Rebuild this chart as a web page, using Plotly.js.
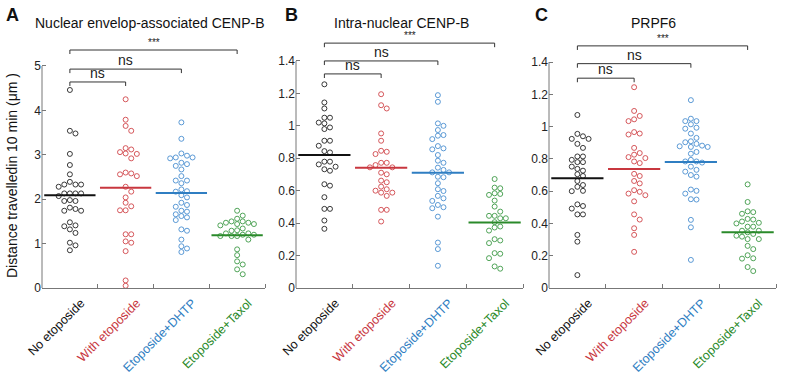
<!DOCTYPE html>
<html>
<head>
<meta charset="utf-8">
<script src="https://cdn.plot.ly/plotly-3.0.1.min.js"></script>
<style>html,body{margin:0;padding:0;background:#fff;}#chart{width:786px;height:377px;}</style>
</head>
<body>
<div id="chart"></div>
<script>
// ---------- data ----------
const categories = ['No etoposide', 'With etoposide', 'Etoposide+DHTP', 'Etoposide+Taxol'];
const colors = ['#222222', '#d0454a', '#4a8fd0', '#3d9a46'];
const lineColors = ['#111111', '#c8373f', '#2f7ec2', '#2a8a2a'];

const panelTitles = ['Nuclear envelop-associated CENP-B', 'Intra-nuclear CENP-B', 'PRPF6'];
const panelLetters = ['A', 'B', 'C'];
const yTitle = 'Distance travelledin 10 min (μm )';

const A_none = [4.46,3.54,3.48,3.02,2.77,2.56,2.39,2.33,2.28,2.33,2.33,2.13,2.13,2.13,2.13,2.07,1.96,1.96,1.98,1.78,1.74,1.74,1.81,1.48,1.32,1.39,1.41,1.24,0.96,1.02,0.85];
const A_with = [4.25,3.79,3.65,3.54,3.06,3.02,3.12,3.15,3.03,2.92,2.58,2.52,2.56,2.60,2.28,2.17,2.04,1.84,1.92,1.75,1.75,1.21,1.21,1.02,1.05,0.83,0.17,0.05];
const A_dhtp = [3.73,3.36,3.03,2.94,2.94,2.98,2.92,2.82,2.75,2.79,2.67,2.52,2.42,2.36,2.42,2.22,2.17,2.18,2.04,2.09,1.92,1.83,1.87,1.74,1.72,1.62,1.53,1.59,1.66,1.32,1.29,1.09,0.89,0.94,0.81];
const A_taxol = [1.74,1.63,1.50,1.47,1.44,1.41,1.44,1.47,1.50,1.56,1.34,1.30,1.29,1.23,1.20,1.17,1.17,1.17,1.20,1.23,1.09,0.87,0.74,0.60,0.53,0.42,0.31];
const A_medians = [2.09, 2.26, 2.14, 1.19];

const B_none = [1.256,1.144,1.107,1.05,1.05,1.015,0.99,0.98,1.02,0.908,0.908,0.877,0.844,0.836,0.762,0.732,0.779,0.723,0.748,0.779,0.631,0.64,0.56,0.488,0.488,0.416,0.365];
const B_with = [1.195,1.107,1.127,0.953,0.908,0.84,0.826,0.846,0.772,0.758,0.772,0.744,0.744,0.701,0.711,0.662,0.652,0.625,0.588,0.588,0.6,0.609,0.568,0.482,0.482,0.41];
const B_dhtp = [1.189,1.148,1.0,1.015,0.939,0.974,0.943,0.918,0.861,0.855,0.875,0.82,0.772,0.785,0.742,0.713,0.713,0.728,0.683,0.686,0.646,0.598,0.609,0.568,0.553,0.537,0.512,0.492,0.498,0.44,0.28,0.24,0.137];
const B_taxol = [0.672,0.619,0.615,0.58,0.574,0.584,0.539,0.502,0.471,0.445,0.43,0.445,0.43,0.406,0.379,0.354,0.373,0.301,0.293,0.277,0.215,0.211,0.184,0.133,0.119];
const B_medians = [0.82, 0.742, 0.711, 0.404];

const C_none = [1.072,0.955,0.924,0.924,0.94,0.893,0.868,0.815,0.815,0.794,0.78,0.78,0.752,0.738,0.727,0.705,0.694,0.663,0.638,0.627,0.602,0.6,0.492,0.508,0.518,0.456,0.456,0.329,0.287,0.08];
const C_with = [1.244,1.097,1.045,1.034,1.066,0.957,0.951,0.966,0.868,0.836,0.826,0.805,0.811,0.784,0.774,0.707,0.694,0.663,0.648,0.606,0.596,0.585,0.575,0.537,0.456,0.424,0.37,0.329,0.224];
const C_dhtp = [1.164,1.049,1.034,1.014,1.034,0.993,0.987,0.957,0.93,0.909,0.893,0.903,0.874,0.882,0.874,0.878,0.843,0.832,0.784,0.777,0.784,0.794,0.732,0.752,0.721,0.7,0.69,0.585,0.602,0.61,0.548,0.55,0.422,0.376,0.174];
const C_taxol = [0.642,0.533,0.47,0.46,0.475,0.424,0.428,0.404,0.4,0.412,0.38,0.38,0.355,0.345,0.355,0.335,0.324,0.303,0.303,0.318,0.241,0.261,0.203,0.184,0.182,0.13,0.105];
const C_medians = [0.68, 0.738, 0.78, 0.345];

// significance brackets: height, label, comparison category
const A_bracketY = [4.64, 4.93, 5.36];
const B_bracketY = [1.32, 1.40, 1.51];
const C_bracketY = [1.30, 1.39, 1.50];
const bracketLabels = ['ns', 'ns', '***'];
const bracketTo = [1, 2, 3];

const A_ticks = [0, 1, 2, 3, 4, 5];
const BC_ticks = [0, 0.2, 0.4, 0.6, 0.8, 1, 1.2, 1.4];

// ---------- layout geometry ----------
const W = 786, H = 377;
const yBotPx = 288, yTopPx = 35;
const panels = [
  {series: [A_none, A_with, A_dhtp, A_taxol], med: A_medians, br: A_bracketY, ticks: A_ticks, yMax: 5, xPx: [42, 265], rangeTop: 5.698, titleX: 150, letterX: 12},
  {series: [B_none, B_with, B_dhtp, B_taxol], med: B_medians, br: B_bracketY, ticks: BC_ticks, yMax: 1.4, xPx: [296, 523], rangeTop: 1.560, titleX: 401, letterX: 291},
  {series: [C_none, C_with, C_dhtp, C_taxol], med: C_medians, br: C_bracketY, ticks: BC_ticks, yMax: 1.4, xPx: [549, 776], rangeTop: 1.5675, titleX: 653, letterX: 541}
];

function swarm(vals, pxX, pxY) {
  const step = 5.6, minDy = 5.2;
  const order = vals.map((v, i) => i).sort((a, b) => vals[b] - vals[a]);
  const placed = [];
  const off = new Array(vals.length).fill(0);
  order.forEach(i => {
    const py = vals[i] * pxY;
    for (let k = 0; k < 20; k++) {
      const cands = k === 0 ? [0] : [k, -k];
      let done = false;
      for (const c of cands) {
        const px = c * step;
        const clash = placed.some(p => Math.abs(p[0] - px) < 1 && Math.abs(p[1] - py) < minDy);
        if (!clash) { placed.push([px, py]); off[i] = px / pxX; done = true; break; }
      }
      if (done) break;
    }
  });
  return off;
}

const traces = [];
const layout = {
  width: W, height: H,
  margin: {l: 0, r: 0, t: 0, b: 0},
  paper_bgcolor: '#ffffff', plot_bgcolor: '#ffffff',
  showlegend: false,
  font: {family: 'Liberation Sans, Arial, sans-serif', size: 12, color: '#222'},
  shapes: [], annotations: []
};

const fontF = 'Liberation Sans, Arial, sans-serif';
const yDom = [(H - yBotPx) / H, (H - yTopPx) / H];

panels.forEach((p, pi) => {
  const sfx = pi === 0 ? '' : String(pi + 1);
  const xa = 'x' + sfx, ya = 'y' + sfx;
  const pxX = (p.xPx[1] - p.xPx[0]) / 4;
  const pxY = (yBotPx - yTopPx) / p.rangeTop;

  p.series.forEach((vals, ci) => {
    const off = swarm(vals, pxX, pxY);
    traces.push({
      type: 'scatter', mode: 'markers', xaxis: xa, yaxis: ya,
      x: vals.map((v, i) => ci + off[i]), y: vals,
      marker: {symbol: 'circle-open', size: 5, color: colors[ci], line: {width: 0.9, color: colors[ci]}},
      hoverinfo: 'y', cliponaxis: false
    });
    traces.push({
      type: 'scatter', mode: 'lines', xaxis: xa, yaxis: ya,
      x: [ci - 0.46, ci + 0.46], y: [p.med[ci], p.med[ci]],
      line: {color: lineColors[ci], width: 2}, hoverinfo: 'skip'
    });
  });

  const catText = categories.map((c, i) => '<span style="color:' + lineColors[i] + '">' + c + '</span>');
  layout['xaxis' + sfx] = {
    domain: [p.xPx[0] / W, p.xPx[1] / W], anchor: ya,
    range: [-0.5, 3.5], tickmode: 'array', tickvals: [0, 1, 2, 3], ticktext: catText,
    tickangle: -45, ticks: '', showgrid: false, zeroline: false,
    showline: true, linecolor: '#777', linewidth: 1,
    ticklabelshift: 11, ticklabelstandoff: 2,
    tickfont: {family: fontF, size: 12.5},
    minor: {tickmode: 'array', tickvals: [0.5, 1.5, 2.5, 3.5], ticks: 'inside', ticklen: 4, tickcolor: '#777', tickwidth: 1, showgrid: false},
    fixedrange: true
  };
  layout['yaxis' + sfx] = {
    domain: yDom, anchor: xa,
    range: [0, p.rangeTop], tickmode: 'array', tickvals: p.ticks,
    ticks: 'inside', ticklen: 4, tickcolor: '#777', tickwidth: 1,
    showline: false, showgrid: false, zeroline: false,
    tickfont: {family: fontF, size: 12, color: '#222'},
    fixedrange: true
  };
  // y axis line up to the top tick
  layout.shapes.push({type: 'line', xref: xa + ' domain', yref: ya, x0: 0, x1: 0, y0: 0, y1: p.yMax,
    line: {color: '#777', width: 1}});

  // significance brackets
  const drop = p.yMax * 0.018;
  p.br.forEach((by, bi) => {
    const x1 = bracketTo[bi];
    layout.shapes.push({type: 'path', xref: xa, yref: ya,
      path: 'M 0,' + (by - drop) + ' L 0,' + by + ' L ' + x1 + ',' + by + ' L ' + x1 + ',' + (by - drop),
      line: {color: '#333', width: 1}});
    const isStar = bracketLabels[bi] === '***';
    layout.annotations.push({xref: xa, yref: ya, x: x1 / 2, y: by, text: bracketLabels[bi],
      showarrow: false, yanchor: 'bottom', yshift: isStar ? 0 : -1,
      font: {family: fontF, size: isStar ? 10 : 14, color: '#222'}});
  });

  // panel title and letter
  layout.annotations.push({xref: 'paper', yref: 'paper', x: p.titleX / W, y: (H - 23) / H,
    text: panelTitles[pi], showarrow: false, xanchor: 'center', yanchor: 'middle',
    font: {family: fontF, size: 14, color: '#111'}});
  layout.annotations.push({xref: 'paper', yref: 'paper', x: p.letterX / W, y: (H - 15) / H,
    text: '<b>' + panelLetters[pi] + '</b>', showarrow: false, xanchor: 'center', yanchor: 'middle',
    font: {family: fontF, size: 18, color: '#111'}});
});

layout.annotations.push({xref: 'paper', yref: 'paper', x: 12 / W, y: (H - 176) / H,
  text: yTitle, showarrow: false, textangle: -90, xanchor: 'center', yanchor: 'middle',
  font: {family: fontF, size: 14, color: '#111'}});

Plotly.newPlot('chart', traces, layout, {displayModeBar: false, staticPlot: true});
</script>
</body>
</html>
